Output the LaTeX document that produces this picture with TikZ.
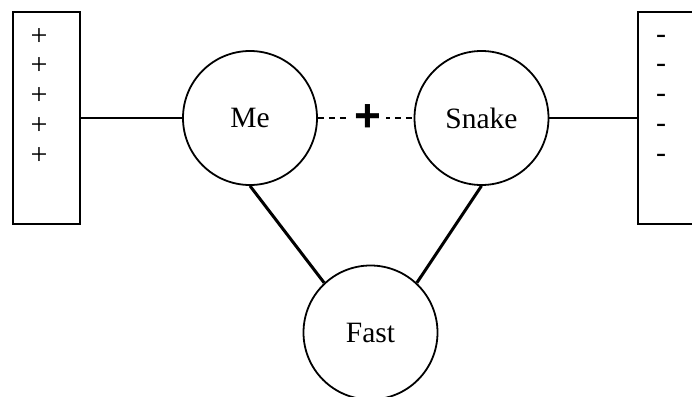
\documentclass[tikz,border=0pt]{standalone}
\usepackage{fontspec}
\setmainfont{Liberation Serif}
\newfontfamily\boldsans{Liberation Sans}
\begin{document}
\begin{tikzpicture}[x=1pt,y=-1pt,
  circ/.style={draw, circle, line width=1.8pt, minimum size=134pt, inner sep=0pt, font=\fontsize{29.5}{34}\selectfont},
  sidebox/.style={draw, rectangle, line width=2pt, minimum width=67pt, minimum height=212pt, inner sep=0pt},
  signmark/.style={inner sep=0pt, font=\fontsize{30}{34}\selectfont},
  conn/.style={line width=2pt},
  thickconn/.style={line width=3pt},
  dashconn/.style={line width=1.6pt, dash pattern=on 6pt off 5pt}
]
\useasboundingbox (0,0) rectangle (692,396);
\clip (0,0) rectangle (692,396);
\node[sidebox] (lbox) at (46.5,118) {};
\node[sidebox] (rbox) at (671.5,118) {};
\foreach \i/\yy in {1/37,2/66.5,3/96,4/126,5/156}{
  \node[signmark] (p\i) at (39,\yy) {+};
  \node[signmark] (m\i) at (661,\yy+2) {-};
}
\node[circ] (me) at (250,118) {Me};
\node[circ] (snake) at (481.5,118) {Snake};
\node[circ] (fast) at (370.5,332.5) {Fast};
\draw[conn] (lbox.east) -- (me.west);
\draw[conn] (snake.east) -- (rbox.west);
\draw[dashconn] (me.east) -- (snake.west);
\node[fill=white, inner xsep=5pt, inner ysep=0pt, font=\boldsans\bfseries\fontsize{46}{50}\selectfont] (plus) at (368,118) {+};
\draw[thickconn] (me.south) -- (fast.133);
\draw[thickconn] (snake.south) -- (fast.47);
\end{tikzpicture}
\end{document}
